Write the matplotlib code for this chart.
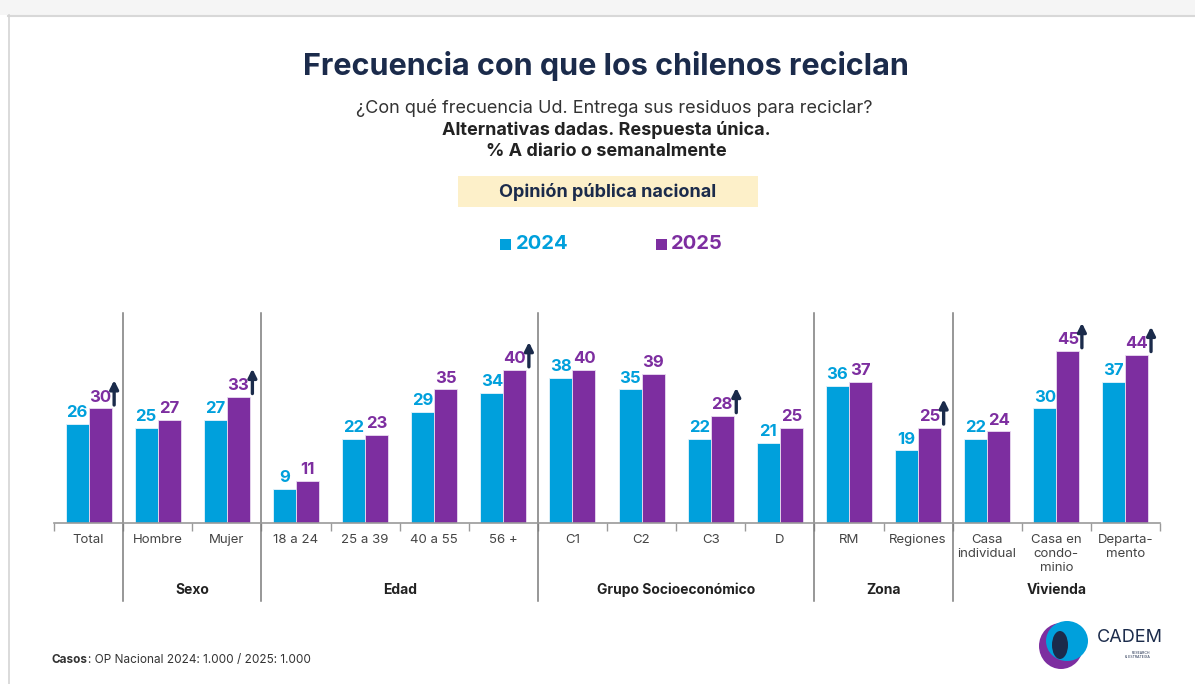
import matplotlib
matplotlib.use("Agg")
import matplotlib.pyplot as plt
import matplotlib.patches as mpatches
import numpy as np

# ─── data ────────────────────────────────────────────────
categories = ["Total", "Hombre", "Mujer", "18 a 24", "25 a 39", "40 a 55", "56 +",
              "C1", "C2", "C3", "D", "RM", "Regiones",
              "Casa\nindividual", "Casa en\ncondo-\nminio", "Departa-\nmento"]
v2024 = [26, 25, 27, 9, 22, 29, 34, 38, 35, 22, 21, 36, 19, 22, 30, 37]
v2025 = [30, 27, 33, 11, 23, 35, 40, 40, 39, 28, 25, 37, 25, 24, 45, 44]
sig_up = [1, 0, 1, 0, 0, 0, 1, 0, 0, 1, 0, 0, 1, 0, 1, 1]
group_names = ["Sexo", "Edad", "Grupo Socioeconómico", "Zona", "Vivienda"]
group_first = [1, 3, 7, 11, 13]
group_last = [2, 6, 10, 12, 15]
series_names = ["2024", "2025"]

# ─── style ───────────────────────────────────────────────
BLUE = "#00a0dc"
PURPLE = "#7d2ea0"
NAVY = "#1b2b4b"
GRAY_TXT = "#444444"
LINE = "#9a9a9a"

W, H = 1195, 684
plt.rcParams["font.family"] = ["Inter", "DejaVu Sans"]

fig = plt.figure(figsize=(W / 100, H / 100), dpi=100)
fig.patch.set_facecolor("white")


def fx(px):
    return px / W


def fy(py):
    return 1 - py / H


# page frame (grey strip on top + left border)
fig.patches.append(mpatches.Rectangle((0, fy(15)), 1, 15 / H, transform=fig.transFigure,
                                      facecolor="#f5f5f5", edgecolor="none", zorder=0))
fig.lines.append(plt.Line2D([fx(8), 1], [fy(15.5), fy(15.5)], transform=fig.transFigure,
                            color="#d8d8d8", linewidth=1.5))
fig.lines.append(plt.Line2D([fx(8.5), fx(8.5)], [fy(15), 0], transform=fig.transFigure,
                            color="#d4d4d4", linewidth=1.2))

# titles
fig.text(fx(606), fy(66), "Frecuencia con que los chilenos reciclan", ha="center", va="center",
         fontsize=22, fontweight="bold", color=NAVY)
fig.text(fx(614), fy(108), "¿Con qué frecuencia Ud. Entrega sus residuos para reciclar?",
         ha="center", va="center", fontsize=13, color="#333333")
fig.text(fx(606), fy(130), "Alternativas dadas. Respuesta única.", ha="center", va="center",
         fontsize=13, fontweight="bold", color="#222222")
fig.text(fx(606), fy(152), "% A diario o semanalmente", ha="center", va="center",
         fontsize=13, fontweight="bold", color="#222222")

# yellow box
fig.patches.append(mpatches.Rectangle((fx(458), fy(207)), 300 / W, 31 / H, transform=fig.transFigure,
                                      facecolor="#fdf0c9", edgecolor="none"))
fig.text(fx(608), fy(192), "Opinión pública nacional", ha="center", va="center",
         fontsize=13, fontweight="bold", color=NAVY)

# legend
for sx, tx, col, name in [(506, 516, BLUE, series_names[0]), (662, 671, PURPLE, series_names[1])]:
    fig.patches.append(mpatches.Rectangle((fx(sx - 6), fy(250)), 11 / W, 11 / H,
                                          transform=fig.transFigure, facecolor=col, edgecolor="none"))
    fig.text(fx(tx), fy(244), name, ha="left", va="center", fontsize=14.5,
             fontweight="bold", color=col)

# ─── bars ────────────────────────────────────────────────
ax = fig.add_axes([fx(54), fy(523), (1160 - 54) / W, 210 / H])
x = np.arange(len(categories))
w = 1 / 3
ax.bar(x - w / 2, v2024, width=w, color=BLUE, edgecolor="#e6f4fb", linewidth=0.6, zorder=2)
ax.bar(x + w / 2, v2025, width=w, color=PURPLE, edgecolor="#eadcf1", linewidth=0.6, zorder=2)
ax.set_xlim(-0.5, len(categories) - 0.5)
ax.set_ylim(0, 55)

for i in range(len(categories)):
    ax.text(x[i] - w / 2, v2024[i] + 1.0, str(v2024[i]), ha="center", va="bottom",
            fontsize=12, fontweight="bold", color=BLUE)
    ax.text(x[i] + w / 2, v2025[i] + 1.0, str(v2025[i]), ha="center", va="bottom",
            fontsize=12, fontweight="bold", color=PURPLE)
    if sig_up[i]:
        ax.annotate("", xy=(x[i] + 0.37, v2025[i] + 7.4), xytext=(x[i] + 0.37, v2025[i] + 0.9),
                    arrowprops=dict(arrowstyle="-|>,head_length=0.5,head_width=0.25",
                                    color=NAVY, linewidth=2.4, shrinkA=0, shrinkB=0))

for s in ["top", "right", "left"]:
    ax.spines[s].set_visible(False)
ax.spines["bottom"].set_color(LINE)
ax.spines["bottom"].set_linewidth(1.2)
ax.set_yticks([])
ax.set_xticks(x)
ax.set_xticklabels(categories, fontsize=9.5, color=GRAY_TXT, linespacing=1.2)
ax.tick_params(axis="x", which="major", length=0, pad=8)
ax.set_xticks(np.arange(-0.5, len(categories), 1), minor=True)
ax.tick_params(axis="x", which="minor", length=6, color=LINE, width=1)

# group separators and group labels
trans = ax.get_xaxis_transform()
for b in [0.5, 2.5, 6.5, 10.5, 12.5]:
    ax.plot([b, b], [1.0, -0.37], transform=trans, color="#7a7a7a", linewidth=1.1, clip_on=False)
for name, a, b in zip(group_names, group_first, group_last):
    ax.text((a + b) / 2, -0.318, name, transform=trans, ha="center", va="center",
            fontsize=10, fontweight="bold", color="#222222")

# footer: bold "Casos" followed by the rest
t = fig.text(fx(52), fy(660), "Casos", ha="left", va="center", fontsize=8.5,
             fontweight="bold", color="#333333")
bb = t.get_window_extent(renderer=fig.canvas.get_renderer())
fig.text(bb.x1 / W, fy(660), ": OP Nacional 2024: 1.000 / 2025: 1.000", ha="left", va="center",
         fontsize=8.5, color="#333333")

# CADEM logo (rough)
lx, ly = 1064, 643
fig.patches.append(mpatches.Ellipse((fx(lx - 3), fy(ly + 3)), 44 / W, 46 / H, transform=fig.transFigure,
                                    facecolor=PURPLE, edgecolor="none"))
fig.patches.append(mpatches.Ellipse((fx(lx + 3), fy(ly - 2)), 42 / W, 40 / H, transform=fig.transFigure,
                                    facecolor=BLUE, edgecolor="none"))
fig.patches.append(mpatches.Ellipse((fx(lx - 4), fy(ly + 2)), 16 / W, 28 / H, transform=fig.transFigure,
                                    facecolor=NAVY, edgecolor="none"))
fig.text(fx(1097), fy(637), "CADEM", ha="left", va="center", fontsize=13, color=NAVY)
fig.text(fx(1150), fy(655), "RESEARCH\n& ESTRATEGIA", ha="right", va="center", fontsize=2.5,
         color=NAVY, linespacing=1.3)

fig.savefig("out.png", dpi=100, facecolor="white")
